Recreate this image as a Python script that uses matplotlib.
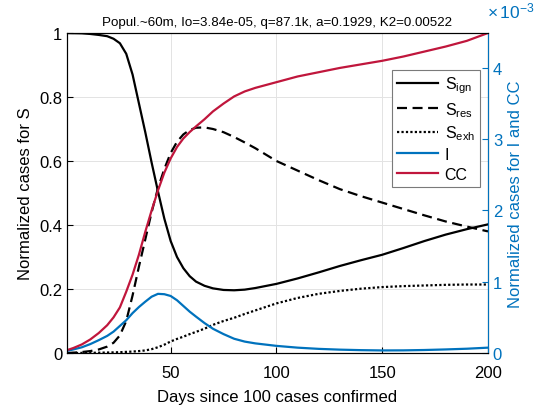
import matplotlib
matplotlib.use('Agg')
import matplotlib.pyplot as plt

plt.rcParams['font.family'] = ['Liberation Sans', 'DejaVu Sans']
plt.rcParams['mathtext.fontset'] = 'custom'
plt.rcParams['mathtext.rm'] = 'Liberation Sans'
plt.rcParams['mathtext.it'] = 'Liberation Sans'

# days since 100 cases confirmed
days = [1, 4, 8, 12, 16, 20, 23, 26, 29, 32, 35, 38, 41, 44, 47, 50, 53, 56, 59, 62,
        66, 70, 75, 80, 85, 90, 100, 110, 120, 130, 140, 150, 160, 170, 180, 190, 200]

# normalized cases for S (left axis)
s_ign = [1.0, 0.9995, 0.999, 0.997, 0.994, 0.99, 0.982, 0.968, 0.935, 0.87, 0.78, 0.69,
         0.595, 0.505, 0.42, 0.35, 0.3, 0.265, 0.24, 0.223, 0.21, 0.202, 0.197, 0.196,
         0.198, 0.203, 0.216, 0.233, 0.252, 0.272, 0.29, 0.307, 0.328, 0.35, 0.37, 0.387,
         0.402]
s_res = [0.0, 0.001, 0.003, 0.006, 0.011, 0.02, 0.032, 0.055, 0.1, 0.18, 0.27, 0.355,
         0.44, 0.515, 0.575, 0.625, 0.66, 0.683, 0.697, 0.704, 0.705, 0.70, 0.69, 0.675,
         0.658, 0.64, 0.60, 0.57, 0.54, 0.512, 0.49, 0.47, 0.45, 0.43, 0.411, 0.395, 0.38]
s_exh = [0.0, 0.0, 0.0003, 0.0006, 0.001, 0.0015, 0.002, 0.0025, 0.0035, 0.0045, 0.006,
         0.008, 0.012, 0.018, 0.026, 0.036, 0.044, 0.051, 0.059, 0.066, 0.076, 0.088,
         0.1, 0.11, 0.122, 0.133, 0.155, 0.172, 0.185, 0.194, 0.201, 0.206, 0.209, 0.211,
         0.213, 0.214, 0.214]

# normalized cases for I and CC (right axis, in units of 1e-3)
inf = [0.03, 0.05, 0.08, 0.125, 0.18, 0.24, 0.3, 0.38, 0.46, 0.56, 0.645, 0.72, 0.79,
       0.83, 0.825, 0.8, 0.74, 0.66, 0.58, 0.51, 0.42, 0.34, 0.265, 0.2, 0.16, 0.135,
       0.1, 0.075, 0.058, 0.047, 0.04, 0.036, 0.037, 0.042, 0.05, 0.06, 0.075]
cc = [0.04, 0.07, 0.12, 0.19, 0.28, 0.39, 0.5, 0.64, 0.86, 1.1, 1.38, 1.7, 2.0, 2.28,
      2.53, 2.73, 2.89, 3.01, 3.1, 3.18, 3.28, 3.39, 3.5, 3.6, 3.67, 3.72, 3.8, 3.88,
      3.94, 4.0, 4.05, 4.1, 4.16, 4.23, 4.3, 4.38, 4.49]

title = 'Popul.~60m, Io=3.84e-05, q=87.1k, a=0.1929, K2=0.00522'
blue = '#0072BD'
red = '#C0163C'
lw = 1.6

fig = plt.figure(figsize=(5.36, 4.10), dpi=100)
ax = fig.add_axes([67 / 536, 56 / 410, 421 / 536, 320 / 410])
ax2 = ax.twinx()

l1, = ax.plot(days, s_ign, color='black', lw=lw, label=r'S$_{\mathrm{ign}}$')
l2, = ax.plot(days, s_res, color='black', lw=lw, ls=(0, (4.5, 2.5)), label=r'S$_{\mathrm{res}}$')
l3, = ax.plot(days, s_exh, color='black', lw=lw, ls=(0, (1, 1)), label=r'S$_{\mathrm{exh}}$')
l4, = ax2.plot(days, inf, color=blue, lw=lw, label='I')
l5, = ax2.plot(days, cc, color=red, lw=lw, label='CC')

ax.set_xlim(1, 200)
ax.set_ylim(0, 1)
ax.set_xticks([50, 100, 150, 200])
ax.set_yticks([0, 0.2, 0.4, 0.6, 0.8, 1])
ax.set_yticklabels(['0', '0.2', '0.4', '0.6', '0.8', '1'])
ax.grid(True, color='#e3e3e3', lw=0.7)
ax.set_axisbelow(True)
ax.tick_params(direction='in', labelsize=12, length=4, width=0.8)
ax.tick_params(axis='x', pad=9)
ax.set_xlabel('Days since 100 cases confirmed', fontsize=12, labelpad=6)
ax.set_ylabel('Normalized cases for S', fontsize=12)
ax.set_title(title, fontsize=9.6, pad=6)

ax2.set_ylim(0, 4.49)
ax2.set_yticks([0, 1, 2, 3, 4])
ax2.tick_params(direction='in', labelsize=12, length=4, width=0.8, colors=blue)
ax2.spines['right'].set_color(blue)
ax2.set_ylabel('Normalized cases for I and CC', fontsize=12, color=blue)
# exponent label above the right axis, kept inside the figure
fig.text(0.997, 0.972, r'$\times\,10^{-3}$', ha='right', va='center',
         fontsize=12.5, color=blue)

for a in (ax, ax2):
    for s in ('top', 'bottom', 'left', 'right'):
        a.spines[s].set_linewidth(0.8)

leg = ax2.legend(handles=[l1, l2, l3, l4, l5], loc='upper right',
                 bbox_to_anchor=(0.98, 0.885), fontsize=11.5, fancybox=False,
                 edgecolor='#7a7a7a', framealpha=1, handlelength=2.6,
                 labelspacing=0.3, borderpad=0.3, handletextpad=0.4,
                 borderaxespad=0)
leg.get_frame().set_linewidth(0.8)

fig.savefig('out.png', dpi=100)
